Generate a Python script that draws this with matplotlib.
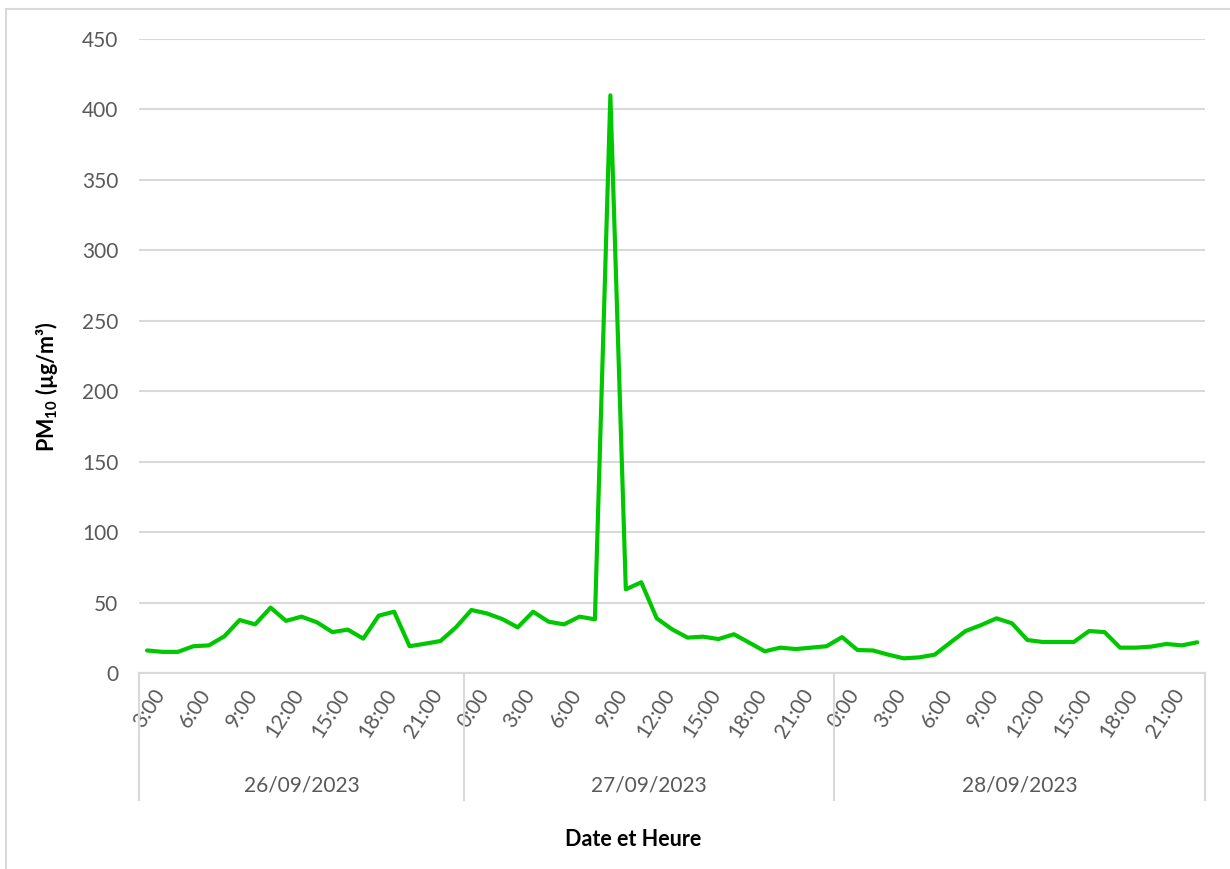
import numpy as np
import pandas as pd
import matplotlib
matplotlib.use('Agg')
import matplotlib.pyplot as plt
import matplotlib.transforms as mtransforms
from matplotlib.patches import Rectangle

# PM10 horaire, du 26/09/2023 3:00 au 28/09/2023 23:00
start = '2023-09-26 03:00'
pm10 = [
    # 26/09 (3:00 -> 23:00)
    16, 15, 15, 19, 19.6, 26, 37.6, 34.5, 46.4, 37, 40, 36, 29, 30.8, 24.4,
    40.7, 43.5, 19, 20.8, 22.7, 32.4,
    # 27/09 (0:00 -> 23:00)
    44.7, 42.3, 38.3, 32.4, 43.5, 36.4, 34.5, 40, 38.1, 410, 59.4, 64.4,
    38.8, 31, 25.1, 25.8, 24.1, 27.5, 21.5, 15.4, 18, 17, 18, 19,
    # 28/09 (0:00 -> 23:00)
    25.5, 16.3, 16, 13, 10.4, 11.1, 13, 21.5, 29.8, 34, 38.8, 35.3,
    23.4, 22, 22, 22, 29.8, 29, 18, 18, 18.7, 20.6, 19.6, 21.8,
]
days = ['26/09/2023', '27/09/2023', '28/09/2023']
y_ticks = [0, 50, 100, 150, 200, 250, 300, 350, 400, 450]

times = pd.date_range(start, periods=len(pm10), freq='h')
x = np.arange(len(pm10))

plt.rcParams['font.family'] = ['Lato', 'DejaVu Sans']
plt.rcParams['mathtext.fontset'] = 'custom'
plt.rcParams['mathtext.rm'] = 'Lato:bold'

grid_col = '#d9d9d9'
txt_col = '#595959'

fig = plt.figure(figsize=(12.3, 8.69), dpi=100)
ax = fig.add_axes([139.3 / 1230, 1 - 673 / 869, (1205 - 139.3) / 1230, (673 - 39) / 869])

# cadre extérieur
fig.patches.append(Rectangle((6 / 1230, -0.1), 1.2, 1 - 9 / 869 + 0.1,
                             transform=fig.transFigure, fill=False,
                             edgecolor='#d9d9d9', linewidth=1.5))

ax.plot(x, pm10, color='#00c800', linewidth=3, solid_joinstyle='round',
        solid_capstyle='round', zorder=3)

ax.set_xlim(-0.5, len(pm10) - 0.5)
ax.set_ylim(0, 450)
ax.set_yticks(y_ticks)
ax.yaxis.grid(True, color=grid_col, linewidth=1.5)
ax.set_axisbelow(True)
for s in ['top', 'right', 'left']:
    ax.spines[s].set_visible(False)
ax.spines['bottom'].set_color(grid_col)
ax.spines['bottom'].set_linewidth(1.5)

ax.tick_params(axis='y', length=0, pad=15, labelsize=15, labelcolor=txt_col)

tick_idx = [i for i in x if times[i].hour % 3 == 0]
tick_lab = [f'{times[i].hour}:00' for i in tick_idx]
ax.set_xticks(tick_idx)
ax.set_xticklabels(tick_lab, rotation=57, ha='right', va='top',
                   rotation_mode='anchor', fontsize=15, color=txt_col)
ax.tick_params(axis='x', length=0, pad=9)
shift = mtransforms.ScaledTranslation(5 / 100, 0, fig.dpi_scale_trans)
for lbl in ax.get_xticklabels():
    lbl.set_transform(lbl.get_transform() + shift)

# séparateurs de jours et étiquettes de dates
bounds = [-0.5] + [i - 0.5 for i in range(1, len(pm10))
                   if times[i].day != times[i - 1].day] + [len(pm10) - 0.5]
trans = ax.get_xaxis_transform()
for b in bounds:
    ax.plot([b, b], [0, -0.2], color=grid_col, linewidth=1.5,
            transform=trans, clip_on=False)
for d, lab in enumerate(days):
    ax.text((bounds[d] + bounds[d + 1]) / 2, -0.177, lab, transform=trans,
            ha='center', va='center', fontsize=15, color=txt_col)

fig.text(633 / 1230, 1 - 839 / 869, 'Date et Heure', ha='center', va='center',
         fontsize=15.5, fontweight='bold', color='black')
fig.text(46 / 1230, 1 - 387 / 869, r'PM$_{\mathrm{10}}$ (µg/m³)', rotation=90,
         ha='center', va='center', fontsize=15.5, fontweight='bold', color='black')

fig.savefig('out.png', dpi=100)
